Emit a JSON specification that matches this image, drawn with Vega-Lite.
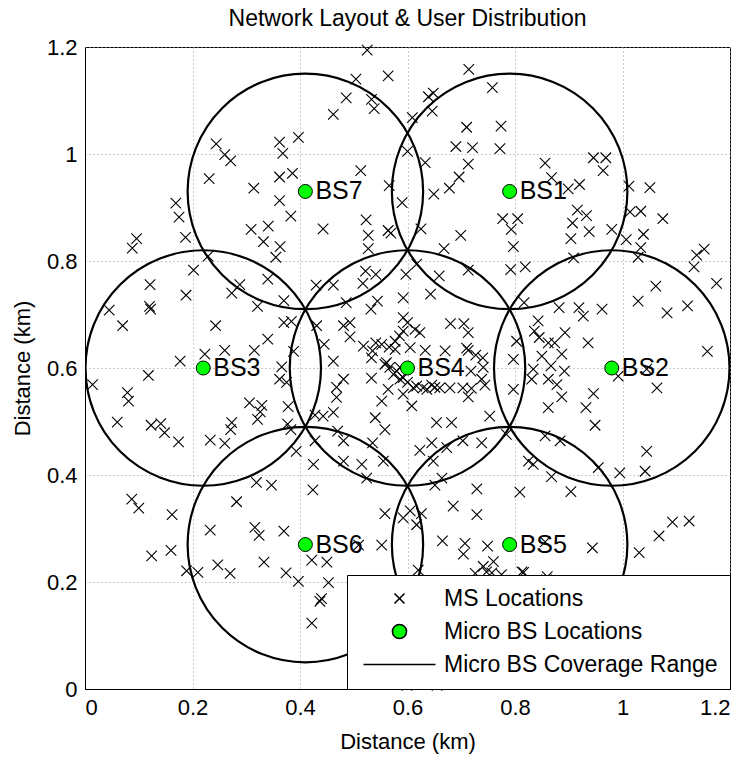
{
  "$schema": "https://vega.github.io/schema/vega-lite/v6.json",
  "autosize": "none",
  "width": 645,
  "height": 642,
  "padding": {"left": 85, "top": 47, "right": 18, "bottom": 74},
  "background": "white",
  "title": {"text": "Network Layout & User Distribution", "fontSize": 23, "fontWeight": "normal", "font": "Liberation Sans", "offset": 5, "color": "black"},
  "config": {
    "view": {"stroke": "black", "strokeWidth": 1},
    "font": "Liberation Sans",
    "axis": {
      "labelFontSize": 22, "titleFontSize": 22, "titleFontWeight": "normal",
      "labelColor": "black", "titleColor": "black",
      "grid": true, "gridDash": [1, 3], "gridColor": "#999999", "gridWidth": 1,
      "domainColor": "black", "ticks": false,
      "labelFont": "Liberation Sans", "titleFont": "Liberation Sans"
    },
    "legend": {
      "labelFontSize": 23, "labelFont": "Liberation Sans", "labelColor": "black",
      "strokeColor": "black", "fillColor": "white", "padding": 12,
      "rowPadding": 9, "labelOffset": 62, "offset": 0, "labelLimit": 400,
      "symbolSize": 144, "symbolStrokeColor": "black", "symbolStrokeWidth": 1.6
    }
  },
  "datasets": {
    "ms": [
      {"x":0.244,"y":1.019},{"x":0.260,"y":0.999},{"x":0.271,"y":0.987},{"x":0.231,"y":0.954},{"x":0.314,"y":0.936},
      {"x":0.362,"y":1.022},{"x":0.368,"y":1.001},{"x":0.362,"y":0.957},{"x":0.386,"y":0.964},{"x":0.397,"y":1.031},
      {"x":0.362,"y":0.913},{"x":0.383,"y":0.884},{"x":0.169,"y":0.908},{"x":0.175,"y":0.882},{"x":0.187,"y":0.844},
      {"x":0.096,"y":0.842},{"x":0.088,"y":0.824},{"x":0.309,"y":0.859},{"x":0.341,"y":0.865},{"x":0.332,"y":0.836},
      {"x":0.363,"y":0.827},{"x":0.355,"y":0.807},{"x":0.229,"y":0.809},
      {"x":0.525,"y":1.194},{"x":0.564,"y":1.146},{"x":0.504,"y":1.140},{"x":0.486,"y":1.105},{"x":0.462,"y":1.074},
      {"x":0.533,"y":1.102},{"x":0.538,"y":1.085},{"x":0.639,"y":1.107},{"x":0.648,"y":1.114},
      {"x":0.646,"y":1.080},{"x":0.609,"y":1.068},{"x":0.714,"y":1.158},{"x":0.758,"y":1.124},{"x":0.710,"y":1.050},
      {"x":0.774,"y":1.052},{"x":0.690,"y":1.014},{"x":0.721,"y":1.012},{"x":0.772,"y":1.010},{"x":0.600,"y":1.005},
      {"x":0.633,"y":0.984},{"x":0.713,"y":0.981},{"x":0.696,"y":0.957},{"x":0.678,"y":0.936},{"x":0.513,"y":0.969},
      {"x":0.566,"y":0.941},{"x":0.649,"y":0.925},{"x":0.590,"y":0.909},{"x":0.443,"y":0.860},{"x":0.523,"y":0.877},
      {"x":0.527,"y":0.848},{"x":0.527,"y":0.823},{"x":0.564,"y":0.857},{"x":0.569,"y":0.852},{"x":0.625,"y":0.860},
      {"x":0.699,"y":0.848},{"x":0.668,"y":0.823},{"x":0.777,"y":0.879},{"x":0.793,"y":0.859},{"x":0.797,"y":0.827},
      {"x":0.856,"y":0.983},{"x":0.868,"y":0.956},{"x":0.899,"y":0.935},{"x":0.920,"y":0.943},{"x":0.946,"y":0.993},
      {"x":0.969,"y":0.993},{"x":0.964,"y":0.969},{"x":1.012,"y":0.940},{"x":1.051,"y":0.937},{"x":0.805,"y":0.879},
      {"x":0.916,"y":0.895},{"x":0.933,"y":0.885},{"x":0.907,"y":0.871},
      {"x":0.938,"y":0.855},{"x":0.904,"y":0.842},{"x":0.980,"y":0.859},{"x":1.014,"y":0.892},{"x":1.034,"y":0.893},
      {"x":1.075,"y":0.879},{"x":1.039,"y":0.850},{"x":1.007,"y":0.840},{"x":1.034,"y":0.825},{"x":1.029,"y":0.807},
      {"x":1.138,"y":0.811},{"x":1.152,"y":0.822},{"x":0.909,"y":0.806},
      {"x":0.202,"y":0.783},{"x":0.121,"y":0.756},{"x":0.188,"y":0.736},{"x":0.045,"y":0.708},{"x":0.120,"y":0.715},
      {"x":0.122,"y":0.710},{"x":0.070,"y":0.679},{"x":0.243,"y":0.679},{"x":0.340,"y":0.766},{"x":0.288,"y":0.756},
      {"x":0.273,"y":0.740},{"x":0.321,"y":0.715},{"x":0.370,"y":0.726},{"x":0.370,"y":0.685},{"x":0.384,"y":0.687},
      {"x":0.340,"y":0.654},{"x":0.260,"y":0.633},{"x":0.223,"y":0.626},{"x":0.315,"y":0.633},{"x":0.177,"y":0.613},
      {"x":0.388,"y":0.631},{"x":0.118,"y":0.586},{"x":0.014,"y":0.569},{"x":0.079,"y":0.554},{"x":0.081,"y":0.538},
      {"x":0.366,"y":0.602},{"x":0.362,"y":0.579},{"x":0.375,"y":0.573},{"x":0.060,"y":0.499},{"x":0.123,"y":0.493},
      {"x":0.141,"y":0.496},{"x":0.148,"y":0.479},{"x":0.174,"y":0.462},{"x":0.233,"y":0.465},{"x":0.260,"y":0.459},
      {"x":0.273,"y":0.498},{"x":0.271,"y":0.485},{"x":0.306,"y":0.535},{"x":0.329,"y":0.530},{"x":0.326,"y":0.518},
      {"x":0.321,"y":0.504},{"x":0.378,"y":0.528},{"x":0.377,"y":0.495},{"x":0.383,"y":0.485},{"x":0.393,"y":0.444},
      {"x":0.522,"y":0.781},{"x":0.541,"y":0.775},{"x":0.597,"y":0.775},{"x":0.617,"y":0.794},{"x":0.659,"y":0.772},
      {"x":0.713,"y":0.783},{"x":0.430,"y":0.755},{"x":0.462,"y":0.755},{"x":0.517,"y":0.758},{"x":0.643,"y":0.738},
      {"x":0.592,"y":0.731},{"x":0.544,"y":0.725},{"x":0.532,"y":0.710},{"x":0.486,"y":0.722},{"x":0.493,"y":0.685},
      {"x":0.481,"y":0.679},{"x":0.431,"y":0.679},{"x":0.493,"y":0.658},{"x":0.445,"y":0.644},{"x":0.462,"y":0.613},
      {"x":0.518,"y":0.641},{"x":0.535,"y":0.632},{"x":0.533,"y":0.619},{"x":0.541,"y":0.647},{"x":0.552,"y":0.644},
      {"x":0.566,"y":0.639},{"x":0.577,"y":0.650},{"x":0.585,"y":0.660},{"x":0.592,"y":0.694},{"x":0.600,"y":0.685},
      {"x":0.614,"y":0.672},{"x":0.623,"y":0.666},{"x":0.592,"y":0.669},{"x":0.680,"y":0.683},{"x":0.705,"y":0.683},
      {"x":0.713,"y":0.666},{"x":0.633,"y":0.633},{"x":0.670,"y":0.632},{"x":0.710,"y":0.637},{"x":0.713,"y":0.633},
      {"x":0.727,"y":0.624},{"x":0.740,"y":0.619},{"x":0.741,"y":0.601},{"x":0.738,"y":0.579},{"x":0.718,"y":0.594},
      {"x":0.561,"y":0.610},{"x":0.567,"y":0.601},{"x":0.574,"y":0.588},{"x":0.586,"y":0.601},{"x":0.592,"y":0.582},
      {"x":0.600,"y":0.573},{"x":0.611,"y":0.563},{"x":0.629,"y":0.563},{"x":0.645,"y":0.568},{"x":0.660,"y":0.563},
      {"x":0.679,"y":0.563},{"x":0.703,"y":0.563},{"x":0.719,"y":0.562},{"x":0.744,"y":0.568},{"x":0.713,"y":0.546},
      {"x":0.533,"y":0.581},{"x":0.564,"y":0.560},{"x":0.552,"y":0.538},{"x":0.592,"y":0.551},{"x":0.608,"y":0.529},
      {"x":0.481,"y":0.579},{"x":0.468,"y":0.564},{"x":0.468,"y":0.545},{"x":0.462,"y":0.517},{"x":0.443,"y":0.510},
      {"x":0.428,"y":0.512},{"x":0.470,"y":0.482},{"x":0.481,"y":0.464},{"x":0.428,"y":0.464},{"x":0.540,"y":0.507},
      {"x":0.558,"y":0.485},{"x":0.535,"y":0.460},{"x":0.654,"y":0.498},{"x":0.682,"y":0.498},{"x":0.753,"y":0.510},
      {"x":0.703,"y":0.464},{"x":0.738,"y":0.460},{"x":0.645,"y":0.460},{"x":0.623,"y":0.446},{"x":0.648,"y":0.426},
      {"x":0.673,"y":0.451},{"x":0.784,"y":0.476},{"x":0.797,"y":0.560},{"x":0.797,"y":0.616},{"x":0.792,"y":0.784},
      {"x":0.515,"y":0.420},{"x":0.555,"y":0.426},{"x":0.481,"y":0.426},{"x":0.425,"y":0.420},
      {"x":0.558,"y":0.607},{"x":0.580,"y":0.594},{"x":0.617,"y":0.566},{"x":0.636,"y":0.560},{"x":0.651,"y":0.564},
      {"x":0.586,"y":0.579},{"x":0.577,"y":0.635},{"x":0.605,"y":0.638},
      {"x":0.819,"y":0.789},{"x":1.133,"y":0.789},{"x":1.175,"y":0.758},{"x":1.062,"y":0.753},{"x":1.029,"y":0.725},
      {"x":1.121,"y":0.716},{"x":1.083,"y":0.703},{"x":0.882,"y":0.713},{"x":0.919,"y":0.713},{"x":0.927,"y":0.697},
      {"x":0.962,"y":0.710},{"x":0.817,"y":0.722},{"x":0.843,"y":0.688},{"x":0.836,"y":0.669},{"x":0.845,"y":0.657},
      {"x":0.862,"y":0.647},{"x":0.874,"y":0.647},{"x":0.893,"y":0.666},{"x":0.936,"y":0.647},{"x":0.887,"y":0.626},
      {"x":0.850,"y":0.622},{"x":0.834,"y":0.598},{"x":0.831,"y":0.579},{"x":0.867,"y":0.604},{"x":0.892,"y":0.594},
      {"x":0.862,"y":0.579},{"x":0.878,"y":0.569},{"x":0.887,"y":0.546},{"x":0.862,"y":0.526},{"x":0.932,"y":0.526},
      {"x":0.946,"y":0.552},{"x":0.949,"y":0.493},{"x":0.992,"y":0.585},{"x":1.045,"y":0.598},{"x":1.064,"y":0.563},
      {"x":1.158,"y":0.631},{"x":0.803,"y":0.650},{"x":1.045,"y":0.444},{"x":0.856,"y":0.473},{"x":0.884,"y":0.464},
      {"x":0.825,"y":0.426},{"x":0.834,"y":0.420},{"x":0.955,"y":0.414},{"x":0.995,"y":0.404},{"x":1.042,"y":0.407},
      {"x":0.087,"y":0.355},{"x":0.100,"y":0.338},{"x":0.162,"y":0.326},{"x":0.124,"y":0.249},{"x":0.160,"y":0.259},
      {"x":0.189,"y":0.221},{"x":0.210,"y":0.218},{"x":0.233,"y":0.297},{"x":0.247,"y":0.232},{"x":0.270,"y":0.216},
      {"x":0.282,"y":0.350},{"x":0.319,"y":0.386},{"x":0.347,"y":0.381},{"x":0.316,"y":0.302},{"x":0.324,"y":0.287},
      {"x":0.370,"y":0.295},{"x":0.333,"y":0.237},{"x":0.374,"y":0.217},{"x":0.397,"y":0.201},
      {"x":0.424,"y":0.372},{"x":0.524,"y":0.394},{"x":0.558,"y":0.328},{"x":0.592,"y":0.320},{"x":0.605,"y":0.333},
      {"x":0.626,"y":0.328},{"x":0.617,"y":0.307},{"x":0.552,"y":0.269},{"x":0.509,"y":0.269},{"x":0.422,"y":0.241},
      {"x":0.450,"y":0.237},{"x":0.453,"y":0.199},{"x":0.440,"y":0.169},{"x":0.437,"y":0.164},
      {"x":0.422,"y":0.123},{"x":0.729,"y":0.374},{"x":0.685,"y":0.342},{"x":0.729,"y":0.326},{"x":0.665,"y":0.277},
      {"x":0.707,"y":0.272},{"x":0.704,"y":0.252},{"x":0.749,"y":0.267},{"x":0.620,"y":0.222},{"x":0.726,"y":0.216},
      {"x":0.741,"y":0.229},{"x":0.747,"y":0.219},{"x":0.760,"y":0.238},{"x":0.775,"y":0.214},{"x":0.651,"y":0.381},
      {"x":0.664,"y":0.394},{"x":0.757,"y":0.217},{"x":0.813,"y":0.219},{"x":0.860,"y":0.210},{"x":0.599,"y":0.007},
      {"x":0.655,"y":0.007},
      {"x":0.809,"y":0.368},{"x":0.904,"y":0.369},{"x":0.868,"y":0.397},{"x":0.856,"y":0.275},
      {"x":0.944,"y":0.264},{"x":1.031,"y":0.255},{"x":1.068,"y":0.286},{"x":1.093,"y":0.312},{"x":1.124,"y":0.314},
      {"x":0.816,"y":0.218},{"x":0.859,"y":0.204}
    ],
    "bs": [
      {"x":0.79,"y":0.93,"label":"BS1"},
      {"x":0.98,"y":0.60,"label":"BS2"},
      {"x":0.22,"y":0.60,"label":"BS3"},
      {"x":0.60,"y":0.60,"label":"BS4"},
      {"x":0.79,"y":0.27,"label":"BS5"},
      {"x":0.41,"y":0.27,"label":"BS6"},
      {"x":0.41,"y":0.93,"label":"BS7"}
    ]
  },
  "layer": [
    {
      "data": {"name": "bs"},
      "mark": {"type": "point", "shape": "circle", "size": 55460, "filled": false, "stroke": "black", "strokeWidth": 2.2, "opacity": 1, "clip": true},
      "encoding": {
        "x": {"field": "x", "type": "quantitative", "scale": {"domain": [0, 1.2], "nice": false}, "axis": {"values": [0, 0.2, 0.4, 0.6, 0.8, 1, 1.2], "format": ".1~f", "title": "Distance (km)", "labelPadding": 8, "titlePadding": 13}},
        "y": {"field": "y", "type": "quantitative", "scale": {"domain": [0, 1.2], "nice": false}, "axis": {"values": [0, 0.2, 0.4, 0.6, 0.8, 1, 1.2], "format": ".1~f", "title": "Distance (km)", "labelPadding": 8, "titlePadding": 12}}
      }
    },
    {
      "data": {"name": "ms"},
      "mark": {"type": "point", "shape": "M-1,-1L1,1M1,-1L-1,1", "size": 110, "stroke": "black", "strokeWidth": 1.1, "opacity": 1, "filled": false},
      "encoding": {
        "x": {"field": "x", "type": "quantitative"},
        "y": {"field": "y", "type": "quantitative"}
      }
    },
    {
      "data": {"name": "bs"},
      "mark": {"type": "point", "shape": "circle", "size": 196, "fill": "#00ff00", "stroke": "black", "strokeWidth": 1, "opacity": 1, "filled": true},
      "encoding": {
        "x": {"field": "x", "type": "quantitative"},
        "y": {"field": "y", "type": "quantitative"}
      }
    },
    {
      "data": {"values": []},
      "mark": {"type": "point", "strokeWidth": 1.6, "opacity": 1, "filled": false},
      "encoding": {
        "shape": {"datum": "MS Locations", "type": "nominal",
          "scale": {"domain": ["MS Locations", "Micro BS Locations", "Micro BS Coverage Range"], "range": ["M4,-0.83L5.67,0.83M5.67,-0.83L4,0.83", "M3.66,0A1.17,1.17 0 1,0 6,0A1.17,1.17 0 1,0 3.66,0", "M-1.17,0L10.83,0"]},
          "legend": {"orient": "bottom-right", "title": null}},
        "fill": {"datum": "MS Locations", "type": "nominal",
          "scale": {"domain": ["MS Locations", "Micro BS Locations", "Micro BS Coverage Range"], "range": ["transparent", "#00ff00", "transparent"]},
          "legend": {"orient": "bottom-right", "title": null}},
        "stroke": {"datum": "MS Locations", "type": "nominal",
          "scale": {"domain": ["MS Locations", "Micro BS Locations", "Micro BS Coverage Range"], "range": ["black", "black", "black"]},
          "legend": {"orient": "bottom-right", "title": null}}
      }
    },
    {
      "data": {"name": "bs"},
      "mark": {"type": "text", "align": "left", "baseline": "middle", "dx": 10, "fontSize": 25, "font": "Liberation Sans", "color": "black"},
      "encoding": {
        "x": {"field": "x", "type": "quantitative"},
        "y": {"field": "y", "type": "quantitative"},
        "text": {"field": "label"}
      }
    }
  ]
}
